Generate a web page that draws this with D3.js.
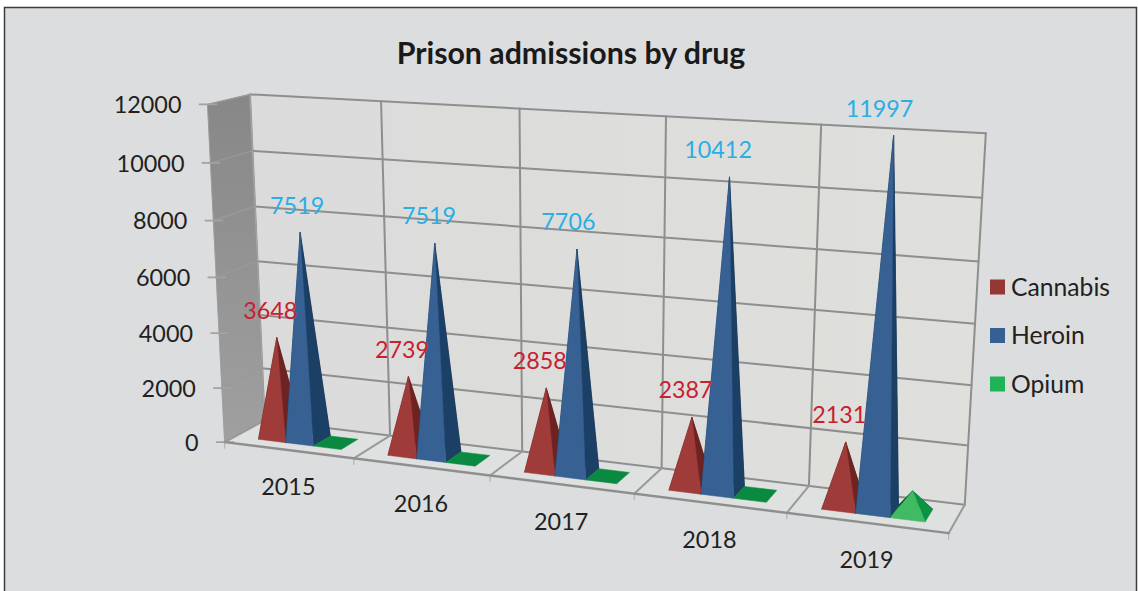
<!DOCTYPE html>
<html>
<head>
<meta charset="utf-8">
<script src="https://cdn.jsdelivr.net/npm/d3@7"></script>
<style>
    html, body { margin: 0; padding: 0; background: #fff; }
    svg { display: block; }
    text { font-family: Lato, "Open Sans", sans-serif; }
</style>
</head>
<body>
<svg id="chart" width="1138" height="591"></svg>
<script>
const title = 'Prison admissions by drug';
const years = ['2015', '2016', '2017', '2018', '2019'];
const seriesNames = ['Cannabis', 'Heroin', 'Opium'];
const cannabis = [3648, 2739, 2858, 2387, 2131];
const heroin = [7519, 7519, 7706, 10412, 11997];
const opium = [20, 25, 15, 20, 760];
const valueTicks = [0, 2000, 4000, 6000, 8000, 10000, 12000];

const seriesValues = [cannabis, heroin, opium];

const svg = d3.select('#chart');

// Box corners as seen on the picture: [u, v, w] -> [screen x, screen y]
// u = along categories, v = up the value axis, w = depth
const anchors = [
    [[0, 0, 0], [225, 440]],
    [[0.2, 0, 0], [355, 460]],
    [[0.4, 0, 0], [490, 478]],
    [[0.8, 0, 0], [787, 514]],
    [[1, 0, 0], [948, 534]],
    [[0, 0, 1], [262, 423]],
    [[1, 0, 1], [965, 502]],
    [[0, 1, 1], [252, 94]],
    [[0.2, 1, 1], [382, 102]],
    [[0.4, 1, 1], [519, 109]],
    [[0.6, 1, 1], [666, 116]],
    [[0.8, 1, 1], [821, 124]],
    [[1, 1, 1], [986, 133]],
    [[0, 1, 0], [206, 105]],
    [[0, 1 / 6, 0], [223, 387]],
    [[0, 1 / 3, 0], [220, 332]],
    [[0, 1 / 2, 0], [216, 277]],
    [[0, 2 / 3, 0], [213, 221]],
    [[0, 5 / 6, 0], [209, 163]],
    [[0, 0, 0], [225, 440]]
];

// least squares fit of a 3x4 camera matrix from the anchors
function fitCamera(points) {
    const n = 11;
    const A = d3.range(n).map(() => new Array(n + 1).fill(0));
    const addRow = (row, rhs) => {
        for (let i = 0; i < n; i++) {
            for (let j = 0; j < n; j++) A[i][j] += row[i] * row[j];
            A[i][n] += row[i] * rhs;
        }
    };
    points.forEach(([[u, v, w], [x, y]]) => {
        addRow([u, v, w, 1, 0, 0, 0, 0, -x * u, -x * v, -x * w], x);
        addRow([0, 0, 0, 0, u, v, w, 1, -y * u, -y * v, -y * w], y);
    });
    for (let c = 0; c < n; c++) {
        let pivot = c;
        for (let r = c + 1; r < n; r++) {
            if (Math.abs(A[r][c]) > Math.abs(A[pivot][c])) pivot = r;
        }
        [A[c], A[pivot]] = [A[pivot], A[c]];
        for (let r = 0; r < n; r++) {
            if (r === c) continue;
            const f = A[r][c] / A[c][c];
            for (let k = c; k <= n; k++) A[r][k] -= f * A[c][k];
        }
    }
    return A.map((row, i) => row[n] / row[i]);
}

const cam = fitCamera(anchors);

function project(u, v, w) {
    const d = cam[8] * u + cam[9] * v + cam[10] * w + 1;
    return [
        (cam[0] * u + cam[1] * v + cam[2] * w + cam[3]) / d,
        (cam[4] * u + cam[5] * v + cam[6] * w + cam[7]) / d
    ];
}

const xBand = d3.scaleBand().domain(years).range([0, 1]);
const yScale = d3.scaleLinear().domain([0, 12000]).range([0, 1]);
const cluster = d3.scaleBand()
    .domain(seriesNames)
    .range([xBand.bandwidth() * 0.185, xBand.bandwidth() * 0.83]);
const zFront = 0.26;
const zBack = 0.71;

const poly = d3.line();
const face = (g, pts, fill, stroke) => g.append('path')
    .attr('d', poly(pts) + 'Z')
    .attr('fill', fill)
    .attr('stroke', stroke || fill)
    .attr('stroke-width', 0.5);

const defs = svg.append('defs');
const leftGrad = defs.append('linearGradient').attr('id', 'leftWall')
    .attr('x1', 0).attr('y1', 0).attr('x2', 0).attr('y2', 1);
leftGrad.append('stop').attr('offset', '0%').attr('stop-color', '#878787');
leftGrad.append('stop').attr('offset', '100%').attr('stop-color', '#a0a0a0');
const backGrad = defs.append('linearGradient').attr('id', 'backWall')
    .attr('x1', 0).attr('y1', 0).attr('x2', 1).attr('y2', 0);
backGrad.append('stop').attr('offset', '0%').attr('stop-color', '#dbdbdb');
backGrad.append('stop').attr('offset', '100%').attr('stop-color', '#dfdfdc');

// chart area and frame
svg.append('rect').attr('x', 4).attr('y', 7).attr('width', 1132).attr('height', 590).attr('fill', '#dcddde');
svg.append('path').attr('d', 'M4.5,591V7.5H1136.5V591').attr('fill', 'none').attr('stroke', '#3c3c3c').attr('stroke-width', 1.5);

svg.append('text').attr('x', 571).attr('y', 53).attr('dy', '0.35em')
    .attr('text-anchor', 'middle').attr('font-size', 30.3).attr('font-weight', 700)
    .attr('fill', '#1a1a1a').text(title);

// walls and floor
const walls = svg.append('g');
face(walls, [project(0, 0, 1), project(1, 0, 1), project(1, 1, 1), project(0, 1, 1)], 'url(#backWall)');
face(walls, [project(0, 0, 0), project(0, 0, 1), project(0, 1, 1), project(0, 1, 0)], 'url(#leftWall)');
face(walls, [project(0, 0, 0), project(1, 0, 0), project(1, 0, 1), project(0, 0, 1)], '#dfe0e0');

const grid = svg.append('g').attr('fill', 'none').attr('stroke-linecap', 'round');
const gridLine = (pts, color, w) => grid.append('path').attr('d', poly(pts))
    .attr('stroke', color).attr('stroke-width', w || 2);

valueTicks.forEach(t => {
    const v = yScale(t);
    gridLine([project(0, v, 0), project(0, v, 1)], '#9a9a9a', 1.2);
    gridLine([project(0, v, 1), project(1, v, 1)], '#8e8e8e');
    const p = project(0, v, 0);
    gridLine([[p[0] - 8, p[1]], [p[0] + 9, p[1]]], '#a2a2a2', 1.8);
});

const boundaries = [...years.map(y => xBand(y)), 1];
boundaries.forEach(u => {
    gridLine([project(u, 0, 1), project(u, 1, 1)], '#8e8e8e');
    gridLine([project(u, 0, 0), project(u, 0, 1)], '#999999');
    const p = project(u, 0, 0);
    gridLine([p, [p[0], p[1] + 6]], '#b4b4b4', 1.2);
});
gridLine([project(0, 0, 0), project(1, 0, 0)], '#8e8e8e', 2.4);
gridLine([project(0, 0, 1), project(0, 1, 1)], '#a5a5a5', 1.2);
gridLine([project(0, 0, 0), project(0, 1, 0)], '#9a9a9a', 0.8);

// pyramids
const palettes = [
    { front: '#9f3b39', right: '#6c2322', left: '#4d1716', flat: '#7a2a28' },
    { front: '#376193', right: '#1b3f65', left: '#122c48', flat: '#1b3f65' },
    { front: '#40bb63', right: '#0b9343', left: '#08542a', flat: '#0a8a40' }
];

const marks = svg.append('g');
const labelsRed = [];
const labelsBlue = [];

years.forEach((year, i) => {
    seriesNames.forEach((name, s) => {
        const value = seriesValues[s][i];
        const u0 = xBand(year) + cluster(name);
        const u1 = u0 + cluster.bandwidth();
        const uc = (u0 + u1) / 2;
        const zc = (zFront + zBack) / 2;
        const top = project(uc, yScale(value), zc);
        const fl = project(u0, 0, zFront);
        const fr = project(u1, 0, zFront);
        const br = project(u1, 0, zBack);
        const bl = project(u0, 0, zBack);
        const pal = palettes[s];
        const g = marks.append('g');
        if (value < 100) {
            face(g, [fl, fr, br, bl], pal.flat);
            return;
        }
        face(g, [bl, br, top], pal.left);
        face(g, [fl, bl, top], pal.left);
        face(g, [fr, br, top], pal.right);
        face(g, [fl, fr, top], pal.front);
        if (s === 0) labelsRed.push({ value, top, i });
        if (s === 1) labelsBlue.push({ value, top, i });
    });
});

// data labels sit up and to the left of the tips
const labels = svg.append('g').attr('text-anchor', 'middle').attr('font-size', 23.3);
labelsRed.forEach(d => {
    labels.append('text').attr('x', d.top[0] - 6.5).attr('y', d.top[1] - 27).attr('dy', '0.35em')
        .attr('fill', '#c8202f').text(d.value);
});
labelsBlue.forEach(d => {
    labels.append('text').attr('x', d.top[0] - 3 - 2.8 * d.i).attr('y', d.top[1] - 27).attr('dy', '0.35em')
        .attr('fill', '#2aaee4').text(d.value);
});

// value axis labels
const axisText = svg.append('g').attr('font-size', 23.4).attr('fill', '#231f20');
valueTicks.forEach(t => {
    const p = project(0, yScale(t), 0);
    axisText.append('text').attr('x', p[0] - 26).attr('y', p[1] + 0.5).attr('dy', '0.35em')
        .attr('text-anchor', 'end').text(t);
});
years.forEach(year => {
    const p = project(xBand(year) + xBand.bandwidth() / 2, 0, 0);
    axisText.append('text').attr('x', p[0]).attr('y', p[1] + 37).attr('dy', '0.35em')
        .attr('text-anchor', 'middle').text(year);
});

// legend
const legendColors = ['#953735', '#366092', '#1fb557'];
const legendY = d3.scalePoint().domain(seriesNames).range([287, 384]);
const legend = svg.append('g');
seriesNames.forEach((name, s) => {
    const y = legendY(name);
    legend.append('rect').attr('x', 990).attr('y', y - 7.5).attr('width', 15).attr('height', 15)
        .attr('fill', legendColors[s]);
    legend.append('text').attr('x', 1011).attr('y', y).attr('dy', '0.35em')
        .attr('font-size', 24.7).attr('fill', '#231f20').text(name);
});
</script>
</body>
</html>
